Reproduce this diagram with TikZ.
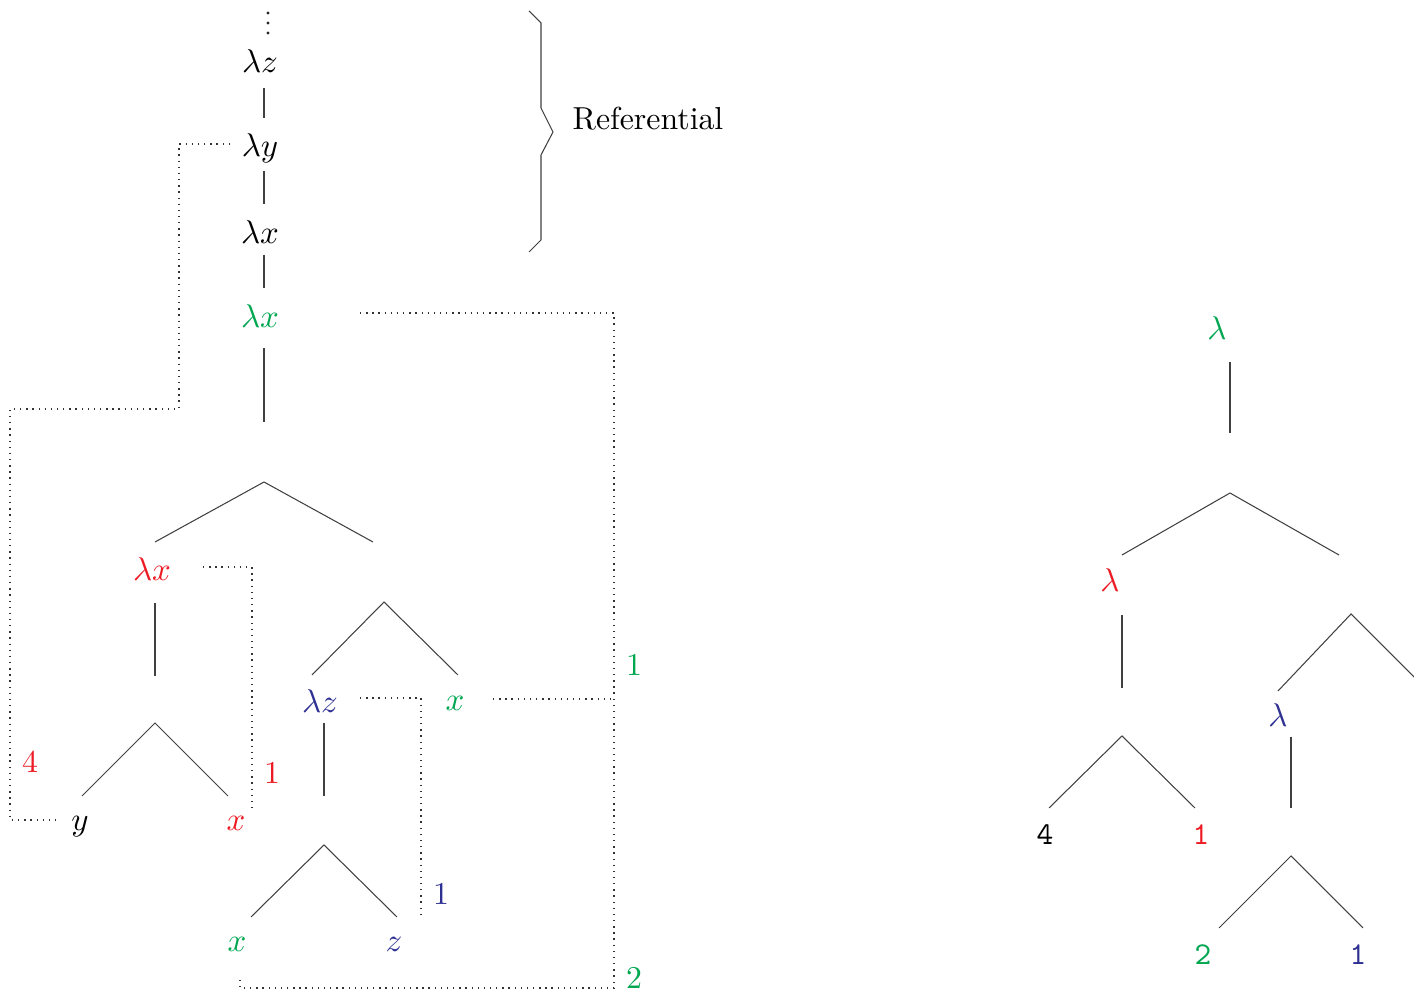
\documentclass[tikz,border=0pt]{standalone}
\usepackage{tikz}
\definecolor{lgreen}{RGB}{0,166,80}
\definecolor{lred}{RGB}{237,28,36}
\definecolor{lblue}{RGB}{46,49,146}
\begin{document}
\begin{tikzpicture}[x=0.33333pt,y=-0.33333pt,
  every node/.append style={font=\fontsize{10.6}{12.7}\selectfont},
  lbl/.style={inner sep=0pt,anchor=base},
  num/.style={inner sep=0pt,anchor=center},
  vdot/.style={circle,fill=black!85,inner sep=0pt,minimum size=1.1pt},
  edge/.style={draw=black!75,line width=0.35pt},
  link/.style={draw=black!80,line width=0.45pt,dash pattern=on 0.45pt off 1.6pt}]
\clip (0,0) rectangle (1414,995);
% ---------- vertical ellipsis ----------
\node[vdot] (vd1) at (268,13) {};
\node[vdot] (vd2) at (268,23) {};
\node[vdot] (vd3) at (268,33) {};
% ---------- left tree : texts ----------
\node[lbl] (lz) at (260,73) {$\lambda z$};
\node[lbl] (ly) at (260,157) {$\lambda y$};
\node[lbl] (lx) at (260,244) {$\lambda x$};
\node[lbl,text=lgreen] (glx) at (260,328) {$\lambda x$};
\node[lbl,text=lred] (rlx) at (152,581) {$\lambda x$};
\node[lbl] (yy) at (80,831) {$y$};
\node[lbl,text=lred] (rx) at (236,831) {$x$};
\node[lbl,text=lblue] (blz) at (320,713) {$\lambda z$};
\node[lbl,text=lgreen] (gx) at (455,711) {$x$};
\node[lbl,text=lgreen] (gx2) at (237,952) {$x$};
\node[lbl,text=lblue] (bz) at (394,952) {$z$};
\node[num,text=lred] (n4) at (30,762) {4};
\node[num,text=lred] (n1r) at (272,773) {1};
\node[num,text=lgreen] (n1g) at (634,665) {1};
\node[num,text=lblue] (n1b) at (441,894) {1};
\node[num,text=lgreen] (n2g) at (634,978) {2};
\node[lbl,anchor=base west] (ref) at (572,130) {Referential};
% ---------- left tree : coordinates ----------
\coordinate (a1) at (264,88);  \coordinate (a2) at (264,118);
\coordinate (b1) at (264,171); \coordinate (b2) at (264,204);
\coordinate (c1) at (264,255); \coordinate (c2) at (264,288);
\coordinate (d1) at (264,348); \coordinate (d2) at (264,422);
\coordinate (r0) at (264,482); \coordinate (rl) at (155,542); \coordinate (rr) at (373,542);
\coordinate (e1) at (155,603); \coordinate (e2) at (155,676);
\coordinate (f0) at (155,723); \coordinate (fl) at (82,796); \coordinate (fr) at (228,796);
\coordinate (g0) at (384,602); \coordinate (gl) at (312,675); \coordinate (gr) at (458,675);
\coordinate (h1) at (324,723); \coordinate (h2) at (324,796);
\coordinate (k0) at (324,845); \coordinate (kl) at (251,917); \coordinate (kr) at (397,917);
\draw[edge] (a1) -- (a2);
\draw[edge] (b1) -- (b2);
\draw[edge] (c1) -- (c2);
\draw[edge] (d1) -- (d2);
\draw[edge] (rl) -- (r0) -- (rr);
\draw[edge] (e1) -- (e2);
\draw[edge] (fl) -- (f0) -- (fr);
\draw[edge] (gl) -- (g0) -- (gr);
\draw[edge] (h1) -- (h2);
\draw[edge] (kl) -- (k0) -- (kr);
% ---------- brace ----------
\coordinate (br1) at (529,11); \coordinate (br2) at (541,23); \coordinate (br3) at (541,108);
\coordinate (br4) at (553,132); \coordinate (br5) at (541,155); \coordinate (br6) at (541,240);
\coordinate (br7) at (529,252);
\draw[edge] (br1) -- (br2) -- (br3) -- (br4) -- (br5) -- (br6) -- (br7);
% ---------- dotted binding links ----------
\coordinate (p1) at (230,144); \coordinate (p2) at (179,144); \coordinate (p3) at (179,409);
\coordinate (p4) at (10,409); \coordinate (p5) at (10,820); \coordinate (p6) at (60,820);
\draw[link] (p1) -- (p2) -- (p3) -- (p4) -- (p5) -- (p6);
\coordinate (q1) at (203,567); \coordinate (q2) at (252,567); \coordinate (q3) at (252,808);
\draw[link] (q1) -- (q2) -- (q3);
\coordinate (s1) at (360,698); \coordinate (s2) at (421,698); \coordinate (s3) at (421,917);
\draw[link] (s1) -- (s2) -- (s3);
\coordinate (t1) at (360,313); \coordinate (t2) at (614,313); \coordinate (t3) at (614,988);
\coordinate (t4) at (240,988); \coordinate (t5) at (240,975);
\draw[link] (t1) -- (t2) -- (t3) -- (t4) -- (t5);
\coordinate (u1) at (493,699); \coordinate (u2) at (614,699);
\draw[link] (u1) -- (u2);
% ---------- right tree ----------
\node[num,text=lgreen] (R0) at (1217,328) {$\lambda$};
\node[num,text=lred] (R1) at (1110,580) {$\lambda$};
\node[num] (R4) at (1045,835) {\texttt{4}};
\node[num,text=lred] (R1r) at (1201,835) {\texttt{1}};
\node[num,text=lblue] (R2) at (1278,715) {$\lambda$};
\node[num,text=lgreen] (R2g) at (1203,955) {\texttt{2}};
\node[num,text=lblue] (R1b) at (1358,955) {\texttt{1}};
\coordinate (ra1) at (1230,362); \coordinate (ra2) at (1230,433);
\coordinate (rb0) at (1230,493); \coordinate (rbl) at (1122,555); \coordinate (rbr) at (1339,555);
\coordinate (rc1) at (1122,615); \coordinate (rc2) at (1122,688);
\coordinate (rd0) at (1122,736); \coordinate (rdl) at (1049,808); \coordinate (rdr) at (1195,808);
\coordinate (re0) at (1351,614); \coordinate (rel) at (1278,691); \coordinate (rer) at (1424,687);
\coordinate (rf1) at (1291,737); \coordinate (rf2) at (1291,808);
\coordinate (rg0) at (1291,856); \coordinate (rgl) at (1219,928); \coordinate (rgr) at (1363,928);
\draw[edge] (ra1) -- (ra2);
\draw[edge] (rbl) -- (rb0) -- (rbr);
\draw[edge] (rc1) -- (rc2);
\draw[edge] (rdl) -- (rd0) -- (rdr);
\draw[edge] (rel) -- (re0) -- (rer);
\draw[edge] (rf1) -- (rf2);
\draw[edge] (rgl) -- (rg0) -- (rgr);
\end{tikzpicture}
\end{document}
